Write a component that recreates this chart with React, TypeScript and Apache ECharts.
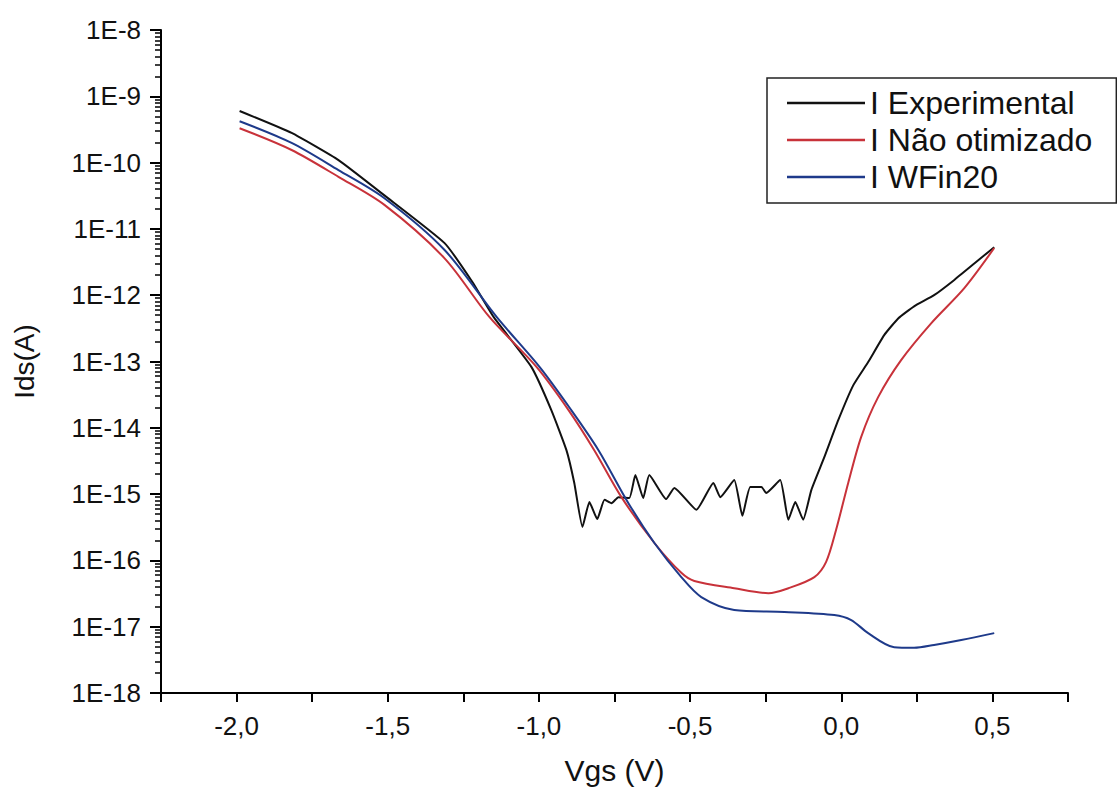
import React, { useEffect, useRef } from "react";
import * as echarts from "echarts";

// I Experimental
const vgsExp = [-1.99, -1.818, -1.663, -1.511, -1.312, -1.22, -1.15, -1.025, -0.959, -0.909, -0.883, -0.856,
  -0.833, -0.807, -0.783, -0.76, -0.737, -0.701, -0.681, -0.655, -0.635, -0.579, -0.552, -0.479, -0.423, -0.4,
  -0.354, -0.327, -0.301, -0.264, -0.248, -0.202, -0.175, -0.152, -0.126, -0.099,
  -0.056, -0.01, 0.04, 0.089, 0.142, 0.189, 0.241, 0.307, 0.374, 0.44, 0.506];
const idsExp = [6.0e-10, 2.8e-10, 1.09e-10, 3.2e-11, 6.1e-12, 1.58e-12, 4.7e-13, 8.3e-14, 1.85e-14, 4.6e-15, 1.47e-15, 3.2e-16,
  7.6e-16, 4.2e-16, 8.2e-16, 7.3e-16, 9.0e-16, 8.7e-16, 1.94e-15, 8.7e-16, 1.94e-15, 8.4e-16, 1.24e-15, 5.8e-16, 1.47e-15, 9.0e-16,
  1.63e-15, 4.7e-16, 1.28e-15, 1.28e-15, 1.04e-15, 1.63e-15, 4.1e-16, 7.6e-16, 4.1e-16, 1.15e-15,
  3.6e-15, 1.3e-14, 4.4e-14, 9.8e-14, 2.5e-13, 4.5e-13, 6.8e-13, 1.0e-12, 1.7e-12, 3.0e-12, 5.3e-12];

// I Não otimizado
const vgsNao = [-1.99, -1.818, -1.663, -1.511, -1.312, -1.164, -1.008, -0.902, -0.817, -0.727, -0.618, -0.529, -0.486,
  -0.354, -0.241, -0.175, -0.089, -0.05, -0.017, 0.023, 0.066, 0.122, 0.198, 0.298, 0.407, 0.506];
const idsNao = [3.3e-10, 1.55e-10, 6.1e-11, 2.3e-11, 3.6e-12, 4.7e-13, 8.3e-14, 1.85e-14, 4.6e-15, 9.0e-16, 1.83e-16, 6.5e-17, 4.9e-17,
  3.8e-17, 3.2e-17, 3.8e-17, 5.6e-17, 9.5e-17, 2.9e-16, 1.47e-15, 7.3e-15, 2.9e-14, 1.05e-13, 3.8e-13, 1.28e-12, 5.15e-12];

// I WFin20
const vgsWFin = [-1.99, -1.818, -1.663, -1.511, -1.312, -1.14, -0.998, -0.893, -0.803, -0.704, -0.618, -0.529, -0.463,
  -0.354, -0.188, -0.023, 0.033, 0.089, 0.175, 0.241, 0.307, 0.397, 0.506];
const idsWFin = [4.2e-10, 1.98e-10, 7.7e-11, 2.9e-11, 4.8e-12, 4.7e-13, 8.3e-14, 1.85e-14, 4.6e-15, 7.3e-16, 1.83e-16, 5.6e-17, 2.8e-17,
  1.79e-17, 1.67e-17, 1.5e-17, 1.26e-17, 8.0e-18, 4.9e-18, 4.8e-18, 5.3e-18, 6.3e-18, 8.0e-18];

const X_MIN = -2.25;
const X_MAX = 0.75;
const X_TICK_STEP = 0.25;
const Y_MIN = 1e-18;
const Y_MAX = 1e-8;

const zip = (xs: number[], ys: number[]) => xs.map((x, i) => [x, ys[i]]);

const FONT = "'Liberation Sans', Arial, sans-serif";

export default function App() {
  const ref = useRef<HTMLDivElement>(null);
  useEffect(() => {
    if (!ref.current) return;
    const chart = echarts.init(ref.current, undefined, { renderer: "svg" });
    const axisLineStyle = { color: "#000", width: 2 };
    chart.setOption({
      animation: false,
      backgroundColor: "#fff",
      grid: { left: 161, right: 49, top: 30, bottom: 105, containLabel: false },
      legend: {
        orient: "vertical",
        left: 767,
        top: 78,
        padding: [9, 24, 10, 20],
        borderColor: "#222",
        borderWidth: 1.5,
        icon: "rect",
        itemWidth: 78,
        itemHeight: 2.5,
        itemGap: 5,
        textStyle: { fontFamily: FONT, fontSize: 32, color: "#111", lineHeight: 32 },
        data: ["I Experimental", "I Não otimizado", "I WFin20"],
      },
      xAxis: {
        type: "value",
        min: X_MIN,
        max: X_MAX,
        interval: X_TICK_STEP,
        position: "bottom",
        name: "Vgs (V)",
        nameLocation: "middle",
        nameGap: 62,
        nameTextStyle: { fontFamily: FONT, fontSize: 30, color: "#111" },
        axisLine: { show: true, onZero: false, lineStyle: axisLineStyle },
        axisTick: { show: true, length: 9, lineStyle: axisLineStyle },
        axisLabel: {
          margin: 20,
          fontFamily: FONT,
          fontSize: 26,
          color: "#111",
          showMinLabel: true,
          showMaxLabel: true,
          hideOverlap: false,
          formatter: (v: number) => {
            const k = Math.round(v * 4);
            if (k % 2 !== 0 || v > 0.6) return "";
            return v.toFixed(1).replace(".", ",").replace("-0,0", "0,0");
          },
        },
        splitLine: { show: false },
      },
      yAxis: {
        type: "log",
        logBase: 10,
        min: Y_MIN,
        max: Y_MAX,
        interval: 1,
        splitNumber: 10,
        position: "left",
        name: "Ids(A)",
        nameLocation: "middle",
        nameGap: 123,
        nameRotate: 90,
        nameTextStyle: { fontFamily: FONT, fontSize: 28, color: "#111" },
        axisLine: { show: true, onZero: false, lineStyle: axisLineStyle },
        axisTick: { show: true, length: 11, lineStyle: axisLineStyle },
        minorTick: { show: true, splitNumber: 9, length: 6, lineStyle: { color: "#000", width: 1.5 } },
        axisLabel: {
          margin: 20,
          fontFamily: FONT,
          fontSize: 26,
          color: "#111",
          formatter: (v: number) => "1E" + Math.round(Math.log10(v)),
        },
        splitLine: { show: false },
        minorSplitLine: { show: false },
      },
      series: [
        {
          name: "I Experimental",
          type: "line",
          data: zip(vgsExp, idsExp),
          symbol: "none",
          smooth: 0.15,
          lineStyle: { color: "#111", width: 2 },
          itemStyle: { color: "#111" },
        },
        {
          name: "I Não otimizado",
          type: "line",
          data: zip(vgsNao, idsNao),
          symbol: "none",
          smooth: 0.3,
          lineStyle: { color: "#c8323a", width: 2 },
          itemStyle: { color: "#c8323a" },
        },
        {
          name: "I WFin20",
          type: "line",
          data: zip(vgsWFin, idsWFin),
          symbol: "none",
          smooth: 0.3,
          lineStyle: { color: "#1e3a8a", width: 2 },
          itemStyle: { color: "#1e3a8a" },
        },
      ],
    });
    return () => chart.dispose();
  }, []);
  return <div ref={ref} style={{ position: "fixed", left: 0, top: 0, width: 1117, height: 798 }} />;
}
